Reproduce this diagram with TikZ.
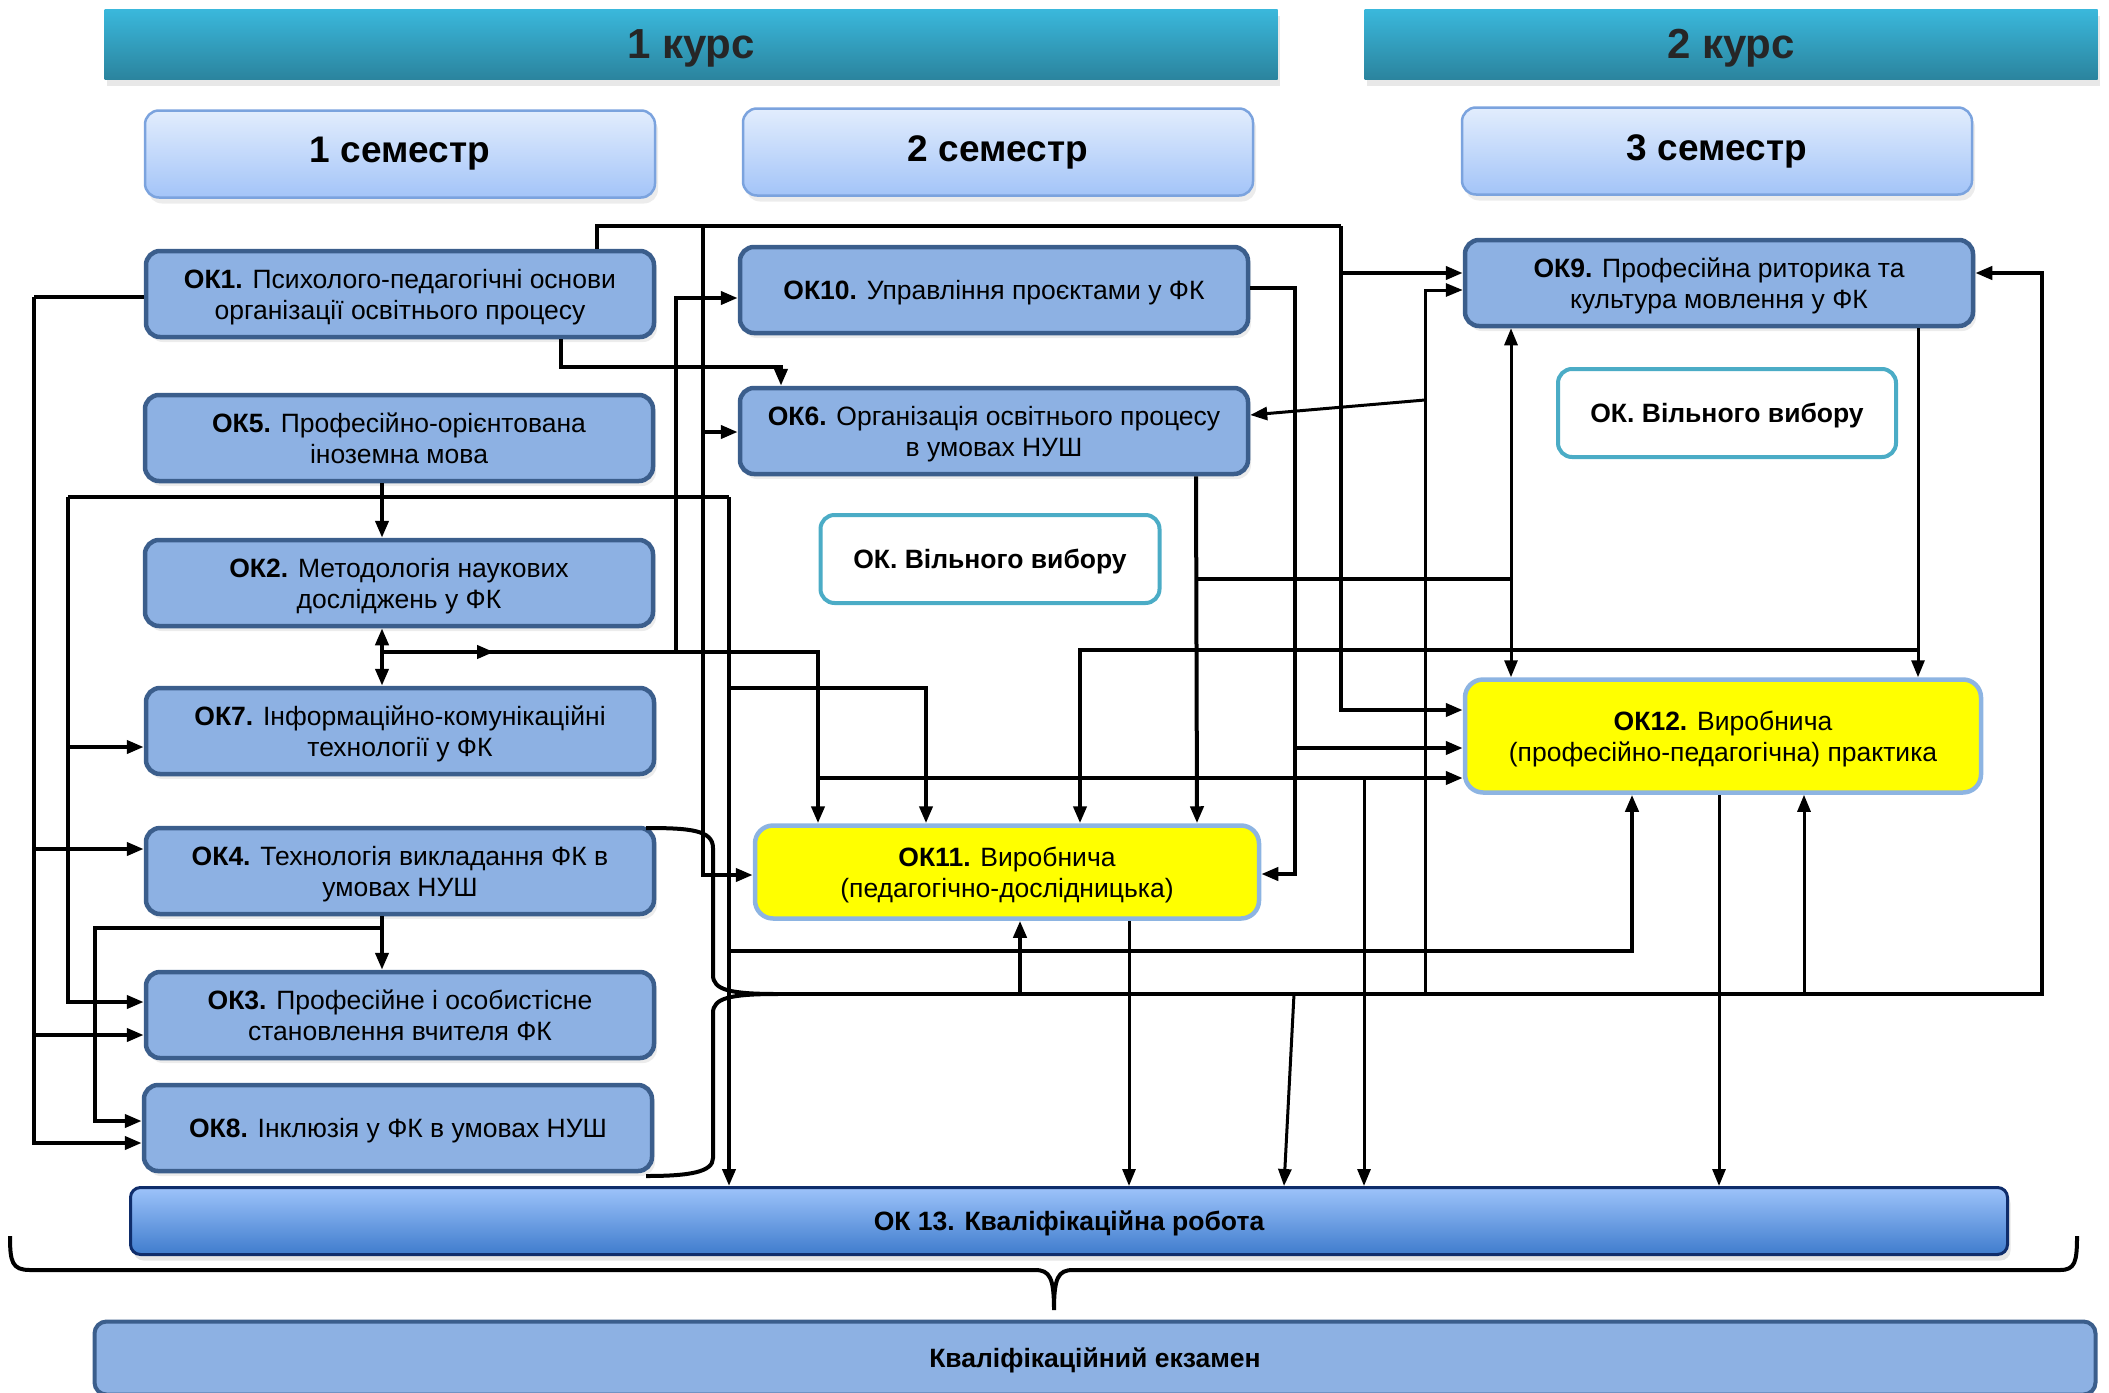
\documentclass[tikz,border=0pt]{standalone}
\usepackage{fontspec}
\setmainfont{Liberation Sans}
\usetikzlibrary{arrows.meta,shadows}

\definecolor{okfill}{HTML}{8DB1E3}
\definecolor{okline}{HTML}{3B5E8C}
\definecolor{kurstop}{HTML}{3AB8DC}
\definecolor{kursbot}{HTML}{2B849E}
\definecolor{semtop}{HTML}{E2EDFD}
\definecolor{sembot}{HTML}{A3C4F8}
\definecolor{semline}{HTML}{7BA3DE}
\definecolor{freeline}{HTML}{4BACC6}
\definecolor{pracline}{HTML}{8DB4E2}
\definecolor{pracfill}{HTML}{FFFF00}
\definecolor{worktop}{HTML}{9DC3FA}
\definecolor{workbot}{HTML}{3F7CCD}
\definecolor{workline}{HTML}{0F2D6B}

\begin{document}
\begin{tikzpicture}[x=1pt, y=-1pt, line width=4pt, >={Triangle[length=17pt,width=13pt]},
  txt/.style={align=center, text depth=0pt, font=\fontsize{26.5}{31}\selectfont},
  kurs/.style={top color=kurstop, bottom color=kursbot, minimum height=70pt, inner sep=0pt,
    text=black!85, text depth=0pt, font=\bfseries\fontsize{42}{50}\selectfont,
    drop shadow={shadow xshift=2pt, shadow yshift=-7pt, opacity=0.18}},
  sem/.style={draw=semline, line width=2.5pt, rounded corners=14pt, top color=semtop, bottom color=sembot,
    minimum width=510pt, minimum height=87pt, font=\bfseries\fontsize{37}{44}\selectfont,
    drop shadow={shadow xshift=3pt, shadow yshift=-6pt, opacity=0.15}},
  okbox/.style={txt, draw=okline, line width=4.5pt, fill=okfill, rounded corners=14pt,
    minimum width=508pt, minimum height=86pt, inner sep=1pt,
    drop shadow={shadow xshift=3pt, shadow yshift=-5pt, opacity=0.15}},
  freebox/.style={txt, font=\bfseries\fontsize{26.5}{31}\selectfont, draw=freeline, line width=4pt,
    fill=white, rounded corners=14pt, minimum height=88pt},
  pracbox/.style={txt, draw=pracline, line width=4.5pt, fill=pracfill, rounded corners=18pt},
  thinline/.style={line width=3pt}
]
\useasboundingbox (0,0) rectangle (2109,1392);

% headers
\node[kurs, minimum width=1173pt] (kurs1) at (691,44) {1 курс};
\node[kurs, minimum width=733pt] (kurs2) at (1731,44) {2 курс};
\node[sem] (sem1) at (400,154) {1 семестр};
\node[sem] (sem2) at (998,152) {2 семестр};
\node[sem] (sem3) at (1717,151) {3 семестр};

% blocks
\node[okbox] (ok1) at (400,294) {\textbf{ОК1.} Психолого-педагогічні основи\\організації освітнього процесу};
\node[okbox] (ok5) at (399,438) {\textbf{ОК5.} Професійно-орієнтована\\іноземна мова};
\node[okbox] (ok2) at (399,583) {\textbf{ОК2.} Методологія наукових\\досліджень у ФК};
\node[okbox] (ok7) at (400,731) {\textbf{ОК7.} Інформаційно-комунікаційні\\технології у ФК};
\node[okbox] (ok4) at (400,871) {\textbf{ОК4.} Технологія викладання ФК в\\умовах НУШ};
\node[okbox] (ok3) at (400,1015) {\textbf{ОК3.} Професійне і особистісне\\становлення вчителя ФК};
\node[okbox] (ok8) at (398,1128) {\textbf{ОК8.} Інклюзія у ФК в умовах НУШ};
\node[okbox] (ok10) at (994,290) {\textbf{ОК10.} Управління проєктами у ФК};
\node[okbox] (ok6) at (994,431) {\textbf{ОК6.} Організація освітнього процесу\\в умовах НУШ};
\node[freebox, minimum width=339pt] (free1) at (990,559) {ОК. Вільного вибору};
\node[pracbox, minimum width=504pt, minimum height=93pt] (ok11) at (1007,872) {\textbf{ОК11.} Виробнича\\(педагогічно-дослідницька)};
\node[okbox] (ok9) at (1719,283) {\textbf{ОК9.} Професійна риторика та\\культура мовлення у ФК};
\node[freebox, minimum width=338pt] (free2) at (1727,413) {ОК. Вільного вибору};
\node[pracbox, minimum width=516pt, minimum height=113pt] (ok12) at (1723,736) {\textbf{ОК12.} Виробнича\\(професійно-педагогічна) практика};
\node[txt, font=\bfseries\fontsize{26.5}{31}\selectfont, draw=workline, line width=3pt, rounded corners=10pt,
  top color=worktop, bottom color=workbot, minimum width=1877pt, minimum height=67pt,
  drop shadow={shadow xshift=3pt, shadow yshift=-6pt, opacity=0.2}] (ok13) at (1069,1221) {ОК 13. Кваліфікаційна робота};
\node[txt, font=\bfseries\fontsize{26.5}{31}\selectfont, draw=okline, line width=4pt, rounded corners=12pt,
  fill=okfill, minimum width=2001pt, minimum height=73pt] (exam) at (1095,1358) {Кваліфікаційний екзамен};

% junctions
\coordinate (lb) at (34,297);
\coordinate (tr) at (1341,226);
\coordinate (tm) at (703,226);
\coordinate (mb) at (68,497);
\coordinate (mr) at (729,497);
\coordinate (cj) at (382,652);
\coordinate (cd) at (818,778);
\coordinate (bt) at (778,994);
\coordinate (br) at (2042,994);
\coordinate (b11) at (1020,994);
\coordinate (b13) at (1294,994);
\coordinate (b9) at (1425,994);
\coordinate (b6) at (1425,400);
\coordinate (b12) at (1804,994);
\coordinate (c10) at (1297,748);
\coordinate (c6) at (1197,579);
\coordinate (c9) at (1511,579);
\coordinate (c12) at (1918,650);

% OK1
\draw ([yshift=-3pt]ok1.west) -- (lb);
\draw[->] (lb) |- ([yshift=22pt]ok4.west);
\draw[->] (lb) |- ([yshift=-20pt]ok3.west);
\draw[->] (lb) |- ([yshift=-15pt]ok8.west);
\draw ([xshift=197pt]ok1.north) |- (tr);
\draw[->] (tr) |- ([yshift=26pt]ok12.west);
\draw[->] (tr) |- ([yshift=10pt]ok9.west);
\draw[->] (tm) |- ([yshift=-3pt]ok11.west);
\draw[->] (tm) |- ([yshift=-1pt]ok6.west);
\draw[->] ([xshift=161pt]ok1.south) -- ++(0,28) -| ([xshift=-213pt]ok6.north);

% OK5, OK2, OK7
\draw[->] ([xshift=-17pt]ok5.south) -- ([xshift=-17pt]ok2.north);
\draw (mb) -- (mr);
\draw[->] (mb) |- ([yshift=-16pt]ok7.west);
\draw[->] (mb) |- ([yshift=13pt]ok3.west);
\draw[->] (mr) -- (mr |- ok13.north);
\draw[->] (mr) -- ++(0,191) -| ([xshift=-81pt]ok11.north);
\draw[->] (mr) -- ++(0,454) -| ([xshift=-91pt]ok12.south);
\draw[<->] ([xshift=-17pt]ok2.south) -- ([xshift=-18pt]ok7.north);
\draw[->] (cj) -| ([xshift=-189pt]ok11.north);
\draw[->] (cj) -- ++(112,0);
\draw[->] (cj) -- ++(294,0) |- ([yshift=-8pt]ok10.west);
\draw[->] (cd) -- (cd -| ok12.west);
\draw[->, thinline] ([xshift=546pt]cd) -- ([xshift=295pt]ok13.north);

% OK4, OK3, OK8
\draw[->] ([xshift=-18pt]ok4.south) -- ([xshift=-18pt]ok3.north);
\draw[->] ([xshift=-18pt,yshift=-12pt]ok4.south) -- ++(-287,0) |- ([yshift=7pt]ok8.west);
\draw[line width=4pt] (646,828) .. controls (690,828) and (713,830) .. (713,848) -- (713,975)
  .. controls (713,990) and (730,994) .. (bt) .. controls (730,994) and (713,998) .. (713,1013)
  -- (713,1158) .. controls (713,1172) and (690,1176) .. (646,1176);
\draw[->] (bt) -- (br) |- ([yshift=10pt]ok9.east);
\draw[->] (b11) -- (b11 |- ok11.south);
\draw[->, thinline] (b13) -- ([xshift=215pt]ok13.north);
\draw[->, thinline] (b9) |- ([yshift=-7pt]ok9.west);
\draw[->, thinline] (b6) -- ([yshift=16pt]ok6.east);
\draw[->, thinline] (b12) -- (b12 |- ok12.south);

% OK10, OK6, OK9
\draw[->] ([yshift=2pt]ok10.east) -- ++(45,0) |- ([yshift=-2pt]ok11.east);
\draw[->] (c10) -- (c10 -| ok12.west);
\draw[->] ([xshift=202pt]ok6.south) -- ([xshift=190pt]ok11.north);
\draw (c6) -- (c9);
\draw[<->, thinline] (c9 |- ok9.south) -- (c9 |- ok12.north);
\draw[->, thinline] ([xshift=199pt]ok9.south) -- ([xshift=195pt]ok12.north);
\draw[->] (c12) -| ([xshift=73pt]ok11.north);

% to OK13
\draw[->, thinline] ([xshift=122pt]ok11.south) -- ([xshift=60pt]ok13.north);
\draw[->, thinline] ([xshift=-4pt]ok12.south) -- ([xshift=650pt]ok13.north);

% brace
\draw[line width=4pt] (10,1236) .. controls (10,1262) and (12,1270) .. (30,1270) -- (1035,1270)
  .. controls (1050,1270) and (1054,1278) .. (1054,1310) .. controls (1054,1278) and (1058,1270) .. (1073,1270)
  -- (2060,1270) .. controls (2075,1270) and (2077,1262) .. (2077,1236);
\end{tikzpicture}
\end{document}
